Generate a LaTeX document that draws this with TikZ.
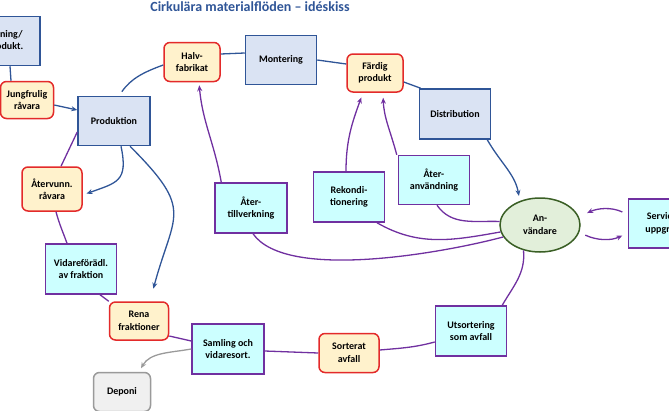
\documentclass[tikz,border=0pt]{standalone}
\usepackage{fontspec}
\setmainfont{Carlito}
\usepackage{tikz}
\usetikzlibrary{positioning,arrows.meta,shapes.geometric}
\definecolor{flowblue}{HTML}{2F5597}
\definecolor{boxblue}{HTML}{DAE3F3}
\definecolor{recyc}{HTML}{7030A0}
\definecolor{boxcyan}{HTML}{CCFFFF}
\definecolor{matred}{HTML}{E32A2A}
\definecolor{matfill}{HTML}{FFF2CC}
\definecolor{usergreen}{HTML}{3A5F25}
\definecolor{userfill}{HTML}{E2EFDA}
\definecolor{depgray}{HTML}{9A9A9A}

\begin{document}
\begin{tikzpicture}[
    x=1pt, y=1pt,
    box/.style={draw, line width=1.5pt, minimum width=71pt, minimum height=49pt, align=center, inner sep=2pt, font=\bfseries\fontsize{10}{12.5}\selectfont},
    flowbox/.style={box, draw=flowblue, fill=boxblue},
    cyclebox/.style={box, draw=recyc, fill=boxcyan},
    matbox/.style={box, draw=matred, fill=matfill, rounded corners=6pt, minimum width=57pt, minimum height=39pt},
    userbox/.style={box, ellipse, draw=usergreen, fill=userfill, minimum width=80pt, minimum height=54pt, inner sep=0pt},
    dumpbox/.style={box, draw=depgray, fill=gray!12, rounded corners=6pt, minimum width=57pt, minimum height=39pt},
    headline/.style={font=\bfseries\fontsize{14}{16}\selectfont, text=flowblue},
    fwd/.style={draw=flowblue, line width=1.3pt},
    fwdarr/.style={fwd, -{Stealth[length=6pt,width=5pt]}},
    ret/.style={draw=recyc, line width=1.3pt},
    retarr/.style={ret, -{Stealth[length=6pt,width=5pt]}},
    dumparr/.style={draw=depgray, line width=1.3pt, -{Stealth[length=6pt,width=5pt]}}
]
  \useasboundingbox (0,-410) rectangle (669,0);
  \clip (0,-410) rectangle (669,0);

  \node[headline] (head) at (250,-7) {Cirkulära materialflöden – idéskiss};

  % linear chain
  \node[flowbox, minimum width=80pt] (src) at (0,-41) {Utvinning/\\Råprodukt.};
  \node[matbox, minimum width=53pt, minimum height=37pt] (jung) at (27,-100) {Jungfrulig\\råvara};
  \node[flowbox, minimum width=72pt] (prod) at (114,-121) {Produktion};
  \node[matbox, minimum width=56pt] (halv) at (192,-62) {Halv-\\fabrikat};
  \node[flowbox] (mont) at (281,-60) {Montering};
  \node[matbox, minimum width=56pt, minimum height=38pt] (fard) at (375,-73) {Färdig\\produkt};
  \node[flowbox, minimum height=50pt] (dist) at (455,-114) {Distribution};
  \node[userbox] (anv) at (540,-225) {An-\\vändare};
  \node[cyclebox] (serv) at (664,-223.5) {Service/\\uppgrad.};

  % loops back
  \node[cyclebox] (ateranv) at (434,-180) {Åter-\\användning};
  \node[cyclebox, minimum height=50pt] (rekond) at (349,-197) {Rekondi-\\tionering};
  \node[cyclebox, minimum width=72pt, minimum height=50pt] (atertillv) at (251,-208) {Åter-\\tillverkning};
  \node[matbox, minimum width=60pt, minimum height=44pt] (atervunn) at (52,-189) {Återvunn.\\råvara};
  \node[cyclebox, minimum height=50pt] (vidare) at (81,-269) {Vidareförädl.\\av fraktion};
  \node[matbox, minimum width=59pt, minimum height=38pt] (rena) at (139,-321) {Rena\\fraktioner};
  \node[cyclebox, minimum width=72pt, minimum height=50pt] (samling) at (228,-349) {Samling och\\vidaresort.};
  \node[matbox, minimum width=60pt] (sort) at (349,-353) {Sorterat\\avfall};
  \node[cyclebox, minimum height=50pt] (utsort) at (471,-331) {Utsortering\\som avfall};
  \node[dumpbox] (deponi) at (122,-392) {Deponi};

  \draw[fwd] ([xshift=10pt]src.south) -- ([xshift=-16pt]jung.north);
  \draw[fwdarr] ([yshift=-5pt]jung.east) -- ([yshift=11pt]prod.west);
  \draw[fwd, shorten <=5pt] ([xshift=5pt]prod.north) to[out=55,in=200] ([yshift=-3pt]halv.west);
  \draw[fwd] ([yshift=8pt]halv.east) -- ([yshift=7pt]mont.west);
  \draw[fwd] (mont.east) -- ([yshift=9pt]fard.west);
  \draw[fwd] ([yshift=-9pt]fard.east) -- ([xshift=2pt]dist.north west);
  \draw[fwdarr, shorten >=5pt] ([xshift=-4pt]dist.south east) to[out=-60,in=100] (anv.130);
  \draw[fwdarr, shorten >=4pt] ([xshift=7pt]prod.south) to[out=-78,in=20,looseness=1.5] ([yshift=-6pt]atervunn.east);
  \draw[fwdarr, shorten >=13pt] ([xshift=16pt]prod.south) to[out=-45,in=75,looseness=1.5] ([xshift=11pt]rena.north);

  \draw[ret] ([yshift=-11pt]prod.west) -- ([xshift=9pt]atervunn.north);
  \draw[ret] ([xshift=4pt]atervunn.south) to[out=-75,in=110] ([xshift=-14pt]vidare.north);
  \draw[ret] ([xshift=19pt]vidare.south) -- (rena.north west);
  \draw[ret] ([yshift=-15pt]rena.east) -- ([yshift=8pt]samling.west);
  \draw[ret] ([yshift=-2pt]samling.east) -- (sort.west);
  \draw[ret] ([yshift=3pt]sort.east) to[out=5,in=195] ([yshift=-11pt]utsort.west);
  \draw[ret] ([xshift=-5pt]utsort.north east) to[out=60,in=-85] (anv.-123);
  \draw[ret] ([xshift=3pt]ateranv.south) to[out=-55,in=178] (anv.175);
  \draw[ret] ([xshift=28pt]rekond.south) to[out=-30,in=190] (anv.190);
  \draw[ret] ([xshift=2pt]atertillv.south) to[out=-55,in=195,looseness=0.6] (anv.198);
  \draw[retarr, shorten >=3pt] ([xshift=7pt]atertillv.north west) to[out=100,in=-85] ([xshift=7pt]halv.south);
  \draw[retarr, shorten >=5pt] ([xshift=-3pt]rekond.north) to[out=90,in=-110] ([xshift=-12pt]fard.south);
  \draw[retarr, shorten >=5pt] ([xshift=-1pt]ateranv.north west) to[out=105,in=-88] ([xshift=8pt]fard.south);
  \draw[retarr, shorten <=6pt, shorten >=7pt] ([yshift=9pt]serv.west) to[out=155,in=25] ([yshift=9pt]anv.east);
  \draw[retarr, shorten <=5pt, shorten >=6pt] ([yshift=-8pt]anv.east) to[out=-25,in=205] ([yshift=-9.5pt]serv.west);

  \draw[dumparr, shorten >=4pt] (samling.west) to[out=190,in=60] ([xshift=17pt]deponi.north);
\end{tikzpicture}
\end{document}
